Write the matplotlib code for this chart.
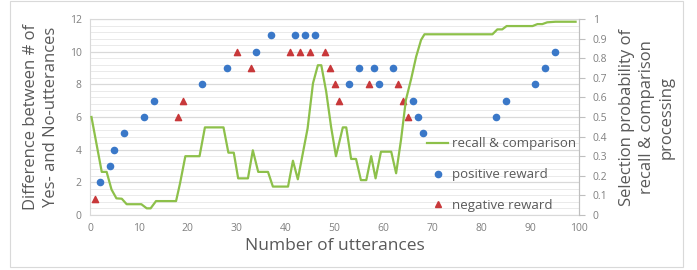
import matplotlib
matplotlib.use('Agg')
import matplotlib.pyplot as plt
from matplotlib.lines import Line2D
from matplotlib.patches import Rectangle

plt.rcParams['font.family'] = ['Open Sans', 'DejaVu Sans']

# positive reward (left axis)
pos_x = [2, 4, 5, 7, 11, 13, 23, 28, 34, 37, 42, 44, 46, 53, 55, 58, 59, 62, 66, 67, 68, 83, 85, 91, 93, 95]
pos_y = [2, 3, 4, 5, 6, 7, 8, 9, 10, 11, 11, 11, 11, 8, 9, 9, 8, 9, 7, 6, 5, 6, 7, 8, 9, 10]

# negative reward (left axis)
neg_x = [1, 18, 19, 30, 33, 41, 43, 45, 48, 49, 50, 51, 57, 63, 64, 65]
neg_y = [1, 6, 7, 10, 9, 10, 10, 10, 10, 9, 8, 7, 8, 8, 7, 6]

# recall & comparison selection probability (right axis)
rc_x = [0.3, 2.4, 3.4, 4.4, 5.4, 6.5, 7.5, 10.5, 11.6, 12.4, 13.5, 17.6, 18.4, 19.5, 22.4,
        23.5, 27.3, 28.3, 29.4, 30.3, 32.3, 33.3, 34.4, 36.4, 37.4, 40.5, 41.5, 42.5, 44.5,
        45.6, 46.6, 47.3, 48.3, 49.3, 50.3, 51.7, 52.4, 53.4, 54.4, 55.4, 56.5, 57.5, 58.4,
        59.5, 61.6, 62.6, 63.6, 64.6, 65.7, 66.7, 67.7, 68.4, 82.3, 83.3, 84.3, 85.2, 90.5,
        91.5, 92.5, 93.5, 95.2, 99.3]
rc_p = [0.5, 0.22, 0.22, 0.13, 0.085, 0.083, 0.055, 0.055, 0.034, 0.034, 0.071, 0.071, 0.16, 0.30, 0.30,
        0.447, 0.447, 0.318, 0.318, 0.187, 0.187, 0.33, 0.22, 0.22, 0.145, 0.145, 0.277, 0.182, 0.442,
        0.672, 0.764, 0.764, 0.63, 0.45, 0.30, 0.447, 0.447, 0.286, 0.286, 0.178, 0.178, 0.30, 0.187,
        0.323, 0.323, 0.213, 0.383, 0.587, 0.697, 0.808, 0.893, 0.922, 0.922, 0.947, 0.947, 0.964, 0.964,
        0.974, 0.974, 0.983, 0.986, 0.986]

green = '#8DC04A'
blue = '#3A78C8'
red = '#C8383A'
txt = '#595959'
tick_c = '#808080'

W, H = 697, 270
fig = plt.figure(figsize=(W / 100, H / 100), dpi=100)
fig.patches.append(Rectangle((10 / W, 3 / H), 673 / W, 266 / H, transform=fig.transFigure,
                             fill=False, edgecolor='#D9D9D9', lw=0.8))

ax = fig.add_axes([90 / W, (H - 215) / H, 489 / W, 196 / H])
ax.set_xlim(0, 100)
ax.set_ylim(0, 12)
ax.set_xticks(range(0, 101, 10))
ax.set_yticks(range(0, 13, 2))
ax.set_yticks([i * 0.4 for i in range(31)], minor=True)
ax.grid(which='major', axis='y', color='#D9D9D9', lw=0.9)
ax.grid(which='minor', axis='y', color='#E6E6E6', lw=0.6)
ax.set_axisbelow(True)
for s in ax.spines.values():
    s.set_color('#D9D9D9')
ax.tick_params(which='both', length=0, labelsize=7.5, labelcolor=tick_c, pad=6)
ax.set_xlabel('Number of utterances', fontsize=12.5, color=txt, labelpad=3)
ax.set_ylabel('Difference between # of\nYes- and No-utterances', fontsize=12, color=txt,
              labelpad=8, linespacing=1.3)

ax2 = ax.twinx()
ax2.set_ylim(0, 1)
ax2.set_yticks([i / 10 for i in range(11)])
ax2.set_yticklabels(['0'] + ['%.1f' % (i / 10) for i in range(1, 10)] + ['1'])
ax2.tick_params(axis='y', length=4, color='#BFBFBF', labelsize=7.5, labelcolor=tick_c, pad=6)
for s in ax2.spines.values():
    s.set_visible(False)
ax2.spines['right'].set_visible(True)
ax2.spines['right'].set_color('#BFBFBF')
ax2.set_ylabel('Selection probability of\nrecall & comparison\nprocessing', fontsize=12,
               color=txt, labelpad=8, linespacing=1.35)

ax2.plot(rc_x, rc_p, color=green, lw=1.6, zorder=2)
ax.scatter(pos_x, pos_y, marker='o', s=20, color=blue, zorder=3)
ax.scatter(neg_x, neg_y, marker='^', s=20, color=red, zorder=3)

handles = [Line2D([], [], color=green, lw=1.6),
           Line2D([], [], color=blue, marker='o', ls='none', markersize=4.5),
           Line2D([], [], color=red, marker='^', ls='none', markersize=4.5)]
labels = ['recall & comparison', 'positive reward', 'negative reward']
leg = ax2.legend(handles, labels, loc='lower left', bbox_to_anchor=(0.665, -0.045), frameon=False,
                 fontsize=9.5, labelspacing=1.35, handlelength=1.6, handletextpad=0.3)
for t in leg.get_texts():
    t.set_color(txt)

fig.savefig('out.png', dpi=100)
